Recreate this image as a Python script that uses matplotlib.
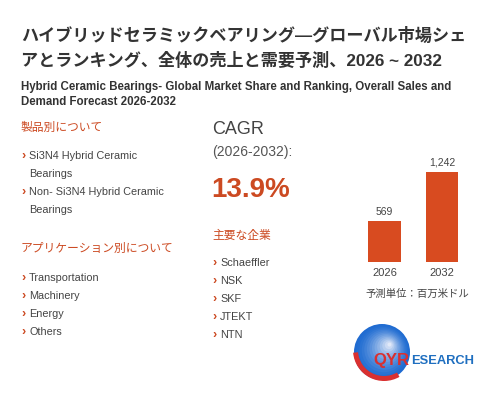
import matplotlib
matplotlib.use("Agg")
import matplotlib.pyplot as plt
from matplotlib.patches import Circle, Wedge
import numpy as np

plt.rcParams['font.family'] = ['Liberation Sans', 'Noto Sans CJK JP', 'DejaVu Sans']

title_jp = ["ハイブリッドセラミックベアリング—グローバル市場シェ", "アとランキング、全体の売上と需要予測、2026 ~ 2032"]
subtitle = ["Hybrid Ceramic Bearings- Global Market Share and Ranking, Overall Sales and", "Demand Forecast 2026-2032"]
product_header = "製品別について"
products = ["Si3N4 Hybrid Ceramic\nBearings", "Non- Si3N4 Hybrid Ceramic\nBearings"]
app_header = "アプリケーション別について"
applications = ["Transportation", "Machinery", "Energy", "Others"]
cagr_label = "CAGR"
cagr_period = "(2026-2032):"
cagr_value = "13.9%"
company_header = "主要な企業"
companies = ["Schaeffler", "NSK", "SKF", "JTEKT", "NTN"]
years = ["2026", "2032"]
values = [569, 1242]
value_labels = ["569", "1,242"]
unit_label = "予測単位：百万米ドル"

W, H = 503, 400
fig = plt.figure(figsize=(W/100, H/100), dpi=100)
fig.patch.set_facecolor("white")

RED = "#cc4a22"
BAR = "#d84b20"
DARK = "#333333"
TXT = "#444444"

def T(x, y, s, **kw):
    kw.setdefault("va", "center")
    fig.text(x/W, 1 - y/H, s, **kw)

# Title
for i, line in enumerate(title_jp):
    T(21, 35 + i*25, line, fontsize=12.3, fontweight="bold", color=DARK,
      family=['Liberation Sans', 'Noto Sans CJK JP', 'DejaVu Sans'])
for i, line in enumerate(subtitle):
    T(21, 87 + i*15, line, fontsize=8.3, fontweight="bold", color=DARK)

# Left column
T(21, 127, product_header, fontsize=8.5, color=RED, family=['Noto Sans CJK JP'])
py = 156
for p in products:
    lines = p.split("\n")
    T(21, py, "›", fontsize=9, color=RED, fontweight="bold")
    for j, l in enumerate(lines):
        T(29, py + j*18, l, fontsize=7.8, color=TXT)
    py += 18*len(lines)
T(21, 248, app_header, fontsize=8.5, color=RED, family=['Noto Sans CJK JP'])
for i, a in enumerate(applications):
    y = 278 + i*18
    T(21, y, "›", fontsize=9, color=RED, fontweight="bold")
    T(29, y, a, fontsize=7.8, color=TXT)

# Middle column
T(212, 130, cagr_label, fontsize=13, color=TXT)
T(212, 152, cagr_period, fontsize=10, color="#555555")
T(211, 190, cagr_value, fontsize=20, color=RED, fontweight="bold")
T(212, 235, company_header, fontsize=8.5, color=RED, family=['Noto Sans CJK JP'])
for i, c in enumerate(companies):
    y = 263 + i*18
    T(212, y, "›", fontsize=9, color=RED, fontweight="bold")
    T(220, y, c, fontsize=7.8, color=TXT)

# Bar chart
left, right, top, bottom = 355.75, 470.75, 150, 262
ax = fig.add_axes([left/W, 1 - bottom/H, (right-left)/W, (bottom-top)/H])
x = np.arange(len(years))
bars = ax.bar(x, values, width=0.57, color=BAR)
ax.set_xlim(-0.5, 1.5)
ax.set_ylim(0, 1545)
ax.bar_label(bars, labels=value_labels, padding=3, fontsize=7.5, color=TXT)
ax.set_xticks(x)
ax.set_xticklabels(years, fontsize=8, color=TXT)
ax.tick_params(axis="x", length=0, pad=4)
ax.set_yticks([])
for s in ax.spines.values():
    s.set_visible(False)
ax.patch.set_alpha(0)
T(417, 294, unit_label, fontsize=7.5, color=TXT, ha="center",
  family=['Noto Sans CJK JP'])

# Logo
lax = fig.add_axes([0, 0, 1, 1], zorder=-1)
lax.set_xlim(0, W)
lax.set_ylim(H, 0)
lax.axis("off")
cx, cy, r = 382, 352, 28
for k in range(14, 0, -1):
    rr = r * k / 14
    t = k / 14
    col = (0.12 + 0.85*(1-t)**1.5, 0.42 + 0.55*(1-t)**1.5, 0.82 + 0.17*(1-t)**1.5)
    lax.add_patch(Circle((cx + (1-t)*8, cy - (1-t)*8), rr, color=col, lw=0))
lax.add_patch(Wedge((cx + 2, cy - 2), r + 3, 60, 175, width=5, color="#d93030", lw=0))
fig.text(373/W, 1 - 360/H, "QYR", fontsize=12, fontweight="bold", color="#d93030", va="center")
fig.text(411/W, 1 - 361/H, "ESEARCH", fontsize=9.3, fontweight="bold", color="#1f6fc0", va="center")

fig.savefig("out.png", dpi=100, facecolor="white")
